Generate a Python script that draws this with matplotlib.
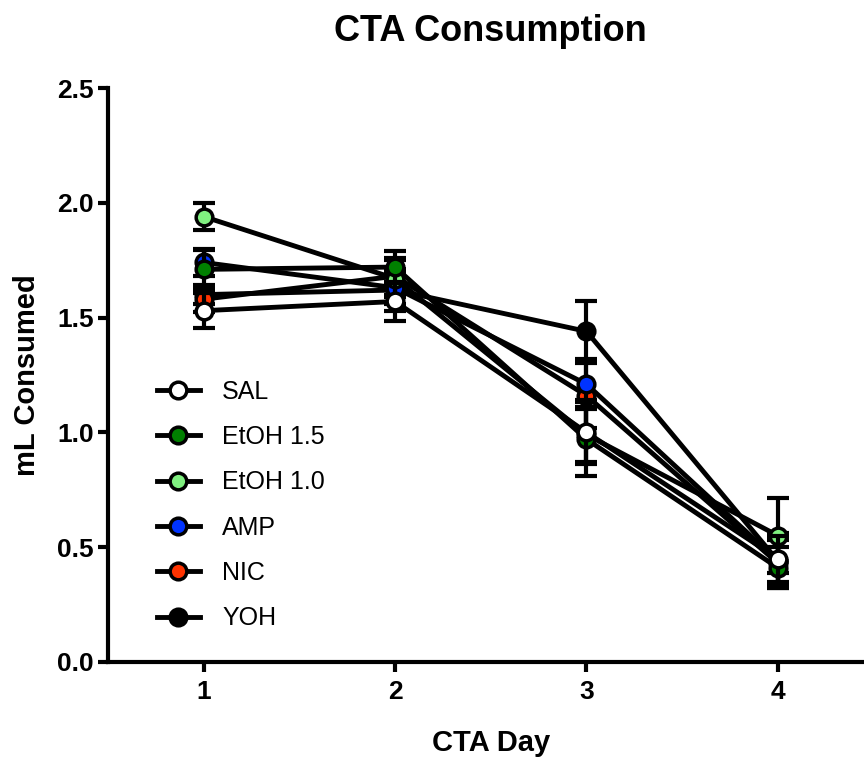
import numpy as np
from matplotlib import pyplot as plt

plt.rcParams['font.family'] = ['Liberation Sans', 'DejaVu Sans']

days = [1, 2, 3, 4]
groups = ['SAL', 'EtOH 1.5', 'EtOH 1.0', 'AMP', 'NIC', 'YOH']
face_colors = ['#ffffff', '#008000', '#80f080', '#0033ff', '#ff3300', '#000000']

# mean mL consumed per CTA day
sal = [1.53, 1.57, 1.00, 0.45]
etoh15 = [1.71, 1.72, 0.97, 0.41]
etoh10 = [1.94, 1.67, 0.99, 0.55]
amp = [1.74, 1.63, 1.21, 0.44]
nic = [1.58, 1.68, 1.16, 0.43]
yoh = [1.60, 1.62, 1.44, 0.44]

# SEM
sal_err = [0.075, 0.085, 0.14, 0.10]
etoh15_err = [0.085, 0.07, 0.16, 0.09]
etoh10_err = [0.06, 0.08, 0.12, 0.165]
amp_err = [0.06, 0.07, 0.11, 0.12]
nic_err = [0.055, 0.08, 0.14, 0.10]
yoh_err = [0.04, 0.09, 0.13, 0.11]

means = [sal, etoh15, etoh10, amp, nic, yoh]
errs = [sal_err, etoh15_err, etoh10_err, amp_err, nic_err, yoh_err]

fig = plt.figure(figsize=(8.64, 7.59), dpi=100)
ax = fig.add_axes([0.125, 0.128, 0.886, 0.756])

handles = []
for i, (name, m, e, fc) in enumerate(zip(groups, means, errs, face_colors)):
    z = 10 - i  # first group on top
    ax.errorbar(days, m, yerr=e, fmt='none', ecolor='black', elinewidth=3,
                capsize=8, capthick=3, zorder=z)
    h, = ax.plot(days, m, '-o', color='black', lw=3.5, markersize=12,
                 markerfacecolor=fc, markeredgecolor='black',
                 markeredgewidth=2.5, label=name, zorder=z + 0.5)
    handles.append(h)

ax.set_xlim(0.5, 4.5)
ax.set_ylim(0, 2.5)
ax.set_xticks(days)
ax.set_yticks([0.0, 0.5, 1.0, 1.5, 2.0, 2.5])
ax.set_yticklabels(['0.0', '0.5', '1.0', '1.5', '2.0', '2.5'])

for side in ['top', 'right']:
    ax.spines[side].set_visible(False)
for side in ['left', 'bottom']:
    ax.spines[side].set_linewidth(3)
ax.tick_params(width=3, length=7, labelsize=19, pad=3)
ax.tick_params(axis='x', pad=6)
for lbl in ax.get_xticklabels() + ax.get_yticklabels():
    lbl.set_fontweight('bold')

ax.set_xlabel('CTA Day', fontsize=21, fontweight='bold', labelpad=18)
ax.set_ylabel('mL Consumed', fontsize=21, fontweight='bold', labelpad=12)
fig.text(0.568, 0.959, 'CTA Consumption', fontsize=26, fontweight='bold',
         ha='center', va='center')

ax.legend(handles=handles, loc='upper left', frameon=False, fontsize=18,
          bbox_to_anchor=(147 / 864, 1 - 370 / 759), bbox_transform=fig.transFigure,
          handlelength=1.7, handletextpad=0.9, labelspacing=0.85, borderaxespad=0)

fig.savefig('out.png', dpi=100)
